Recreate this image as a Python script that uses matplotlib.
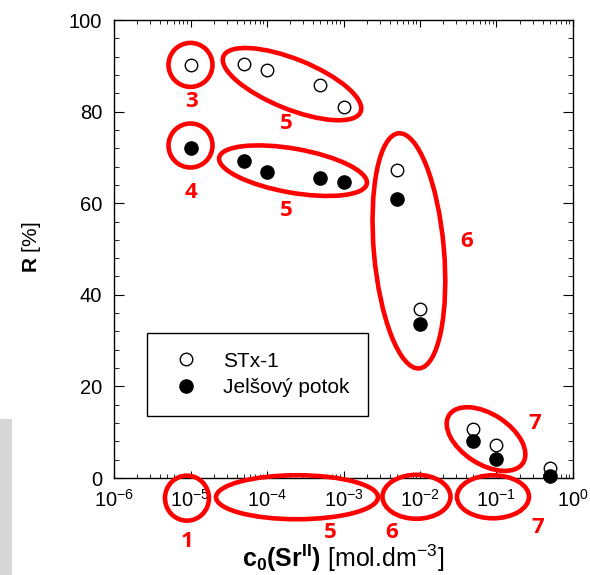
import matplotlib
matplotlib.use('Agg')
import matplotlib.pyplot as plt
from matplotlib.patches import Ellipse, Rectangle
from matplotlib.transforms import ScaledTranslation
import matplotlib.ticker as mticker
import numpy as np

plt.rcParams['font.family'] = ['Liberation Sans', 'DejaVu Sans']
plt.rcParams['mathtext.fontset'] = 'custom'
plt.rcParams['mathtext.rm'] = 'Liberation Sans'
plt.rcParams['mathtext.bf'] = 'Liberation Sans:bold'
plt.rcParams['mathtext.it'] = 'Liberation Sans:italic'

#%% Data
c0 = [1e-5, 5e-5, 1e-4, 5e-4, 1e-3, 5e-3, 1e-2, 5e-2, 1e-1, 5e-1]
R_stx = [90.2, 90.5, 89.1, 85.7, 80.9, 67.2, 37.0, 10.6, 7.2, 2.1]
R_jel = [72.0, 69.2, 66.8, 65.6, 64.6, 61.0, 33.6, 8.1, 4.1, 0.4]
labels = ['STx-1', 'Jelšový potok']

# red ellipses: (log10 c, R, width px, height px, angle deg)
ell_x = [-5.0, -5.0, -3.673, -3.66, -2.145, -1.137, -5.046, -3.608, -2.046, -1.046]
ell_y = [90.2, 72.6, 86.0, 67.1, 49.6, 8.5, -4.4, -4.2, -4.1, -4.1]
ell_w = [44, 44, 148, 150, 70, 88, 44, 162, 68, 72]
ell_h = [44, 44, 50, 44, 236, 50, 45, 44, 44, 43]
ell_a = [0, 0, -22, -10, 5, -33, 0, 0, 0, 0]

# red numbers
num_text = ['3', '4', '5', '5', '6', '7', '1', '5', '6', '7']
num_x = [-4.993, -4.993, -3.752, -3.752, -1.386, -0.497, -5.046, -3.176, -2.366, -0.458]
num_y = [82.1, 62.4, 77.5, 58.3, 51.7, 12.0, -13.8, -11.8, -11.8, -10.9]

#%% Figure
fig = plt.figure(figsize=(5.9, 5.75), dpi=100)
ax = fig.add_axes([114/590, 97/575, 459/590, 458/575])

# grey strip at lower left
fig.patches.append(Rectangle((0, 0), 12/590, 156/575, transform=fig.transFigure,
                             fc='#d6d6d6', ec='none'))

ax.plot(c0, R_stx, 'o', ms=9, mfc='white', mec='black', mew=1.0,
        label=labels[0], clip_on=False, zorder=3)
ax.plot(c0, R_jel, 'o', ms=9.5, mfc='black', mec='black', mew=1.0,
        label=labels[1], clip_on=False, zorder=4)

ax.set_xscale('log')
ax.set_xlim(1e-6, 1)
ax.set_ylim(0, 100)
ax.xaxis.set_major_locator(mticker.LogLocator(base=10, numticks=10))
ax.xaxis.set_minor_locator(mticker.LogLocator(base=10, subs=np.arange(2, 10), numticks=20))
ax.xaxis.set_minor_formatter(mticker.NullFormatter())
ax.yaxis.set_major_locator(mticker.MultipleLocator(20))
ax.yaxis.set_minor_locator(mticker.MultipleLocator(4))

ax.tick_params(which='both', direction='in', top=True, right=True, labelsize=14.5)
ax.tick_params(axis='x', which='major', length=5, pad=8)
ax.tick_params(axis='x', which='minor', length=3)
ax.tick_params(axis='y', which='major', length=7, pad=8.5)
ax.tick_params(axis='y', which='minor', length=3.5)
for s in ax.spines.values():
    s.set_linewidth(1.0)

leg = ax.legend(loc='lower left', bbox_to_anchor=(0.0719, 0.135), borderaxespad=0,
                fontsize=15, frameon=True, fancybox=False, framealpha=1,
                edgecolor='black', borderpad=0.9, handlelength=1.95,
                handletextpad=0.8, labelspacing=0.37)
leg.get_frame().set_linewidth(1.0)

# ellipses sized in pixels, centred at data points
for x, y, w, h, a in zip(ell_x, ell_y, ell_w, ell_h, ell_a):
    tr = fig.dpi_scale_trans + ScaledTranslation(10**x, y, ax.transData)
    e = Ellipse((0, 0), w/100, h/100, angle=a, transform=tr, fill=False,
                ec='#ff0000', lw=3.3, clip_on=False, zorder=5)
    ax.add_artist(e)

for t, x, y in zip(num_text, num_x, num_y):
    ax.text(10**x, y, t, color='#ff0000', fontsize=16, fontweight='bold',
            family='Open Sans', ha='center', va='center', clip_on=False)

fig.text(31.5/590, 1 - 247.5/575, r'$\mathbf{R}$ [%]', rotation=90,
         ha='center', va='center', fontsize=15)
fig.text(343/590, 8/575, r'$\mathbf{c_0(Sr^{II})}$ [mol.dm$^{-3}$]',
         ha='center', va='baseline', fontsize=18)

fig.savefig('out.png', dpi=100)
